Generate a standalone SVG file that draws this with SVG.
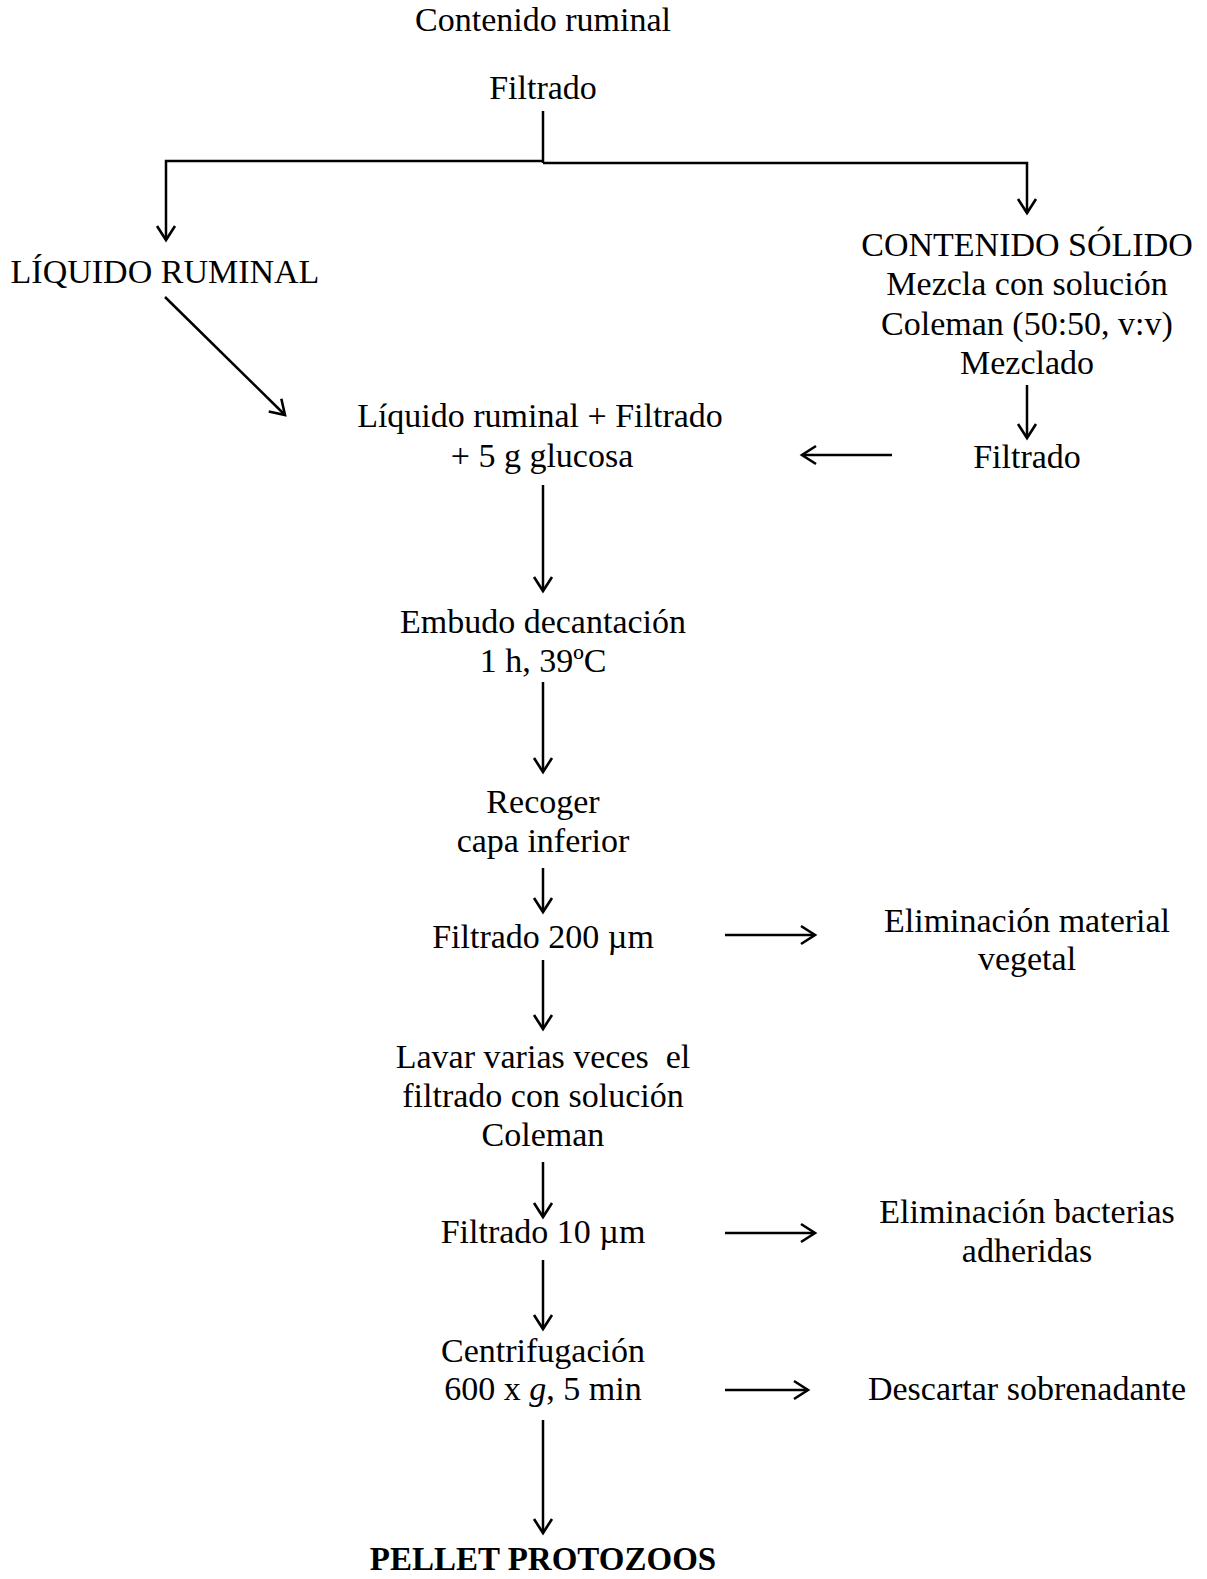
<svg xmlns="http://www.w3.org/2000/svg" width="1207" height="1579" viewBox="0 0 1207 1579">
<style>
text{font-family:"Liberation Serif","Times New Roman",serif;font-size:34px;fill:#000;text-anchor:middle;white-space:pre}
.b{font-weight:bold;font-size:33px}
.ln{stroke:#000;stroke-width:2.5;fill:none}
.ar{stroke:#000;stroke-width:2.5;fill:none;marker-end:url(#arr)}
</style>
<defs>
<marker id="arr" markerUnits="userSpaceOnUse" markerWidth="30" markerHeight="30" refX="0" refY="0" orient="auto" overflow="visible">
<path d="M-14,-9 L0,0 L-14,9" fill="none" stroke="#000" stroke-width="2.6" stroke-linejoin="miter"/>
</marker>
</defs>
<rect width="1207" height="1579" fill="#fff"/>
<g id="n-contenido"><text x="543" y="31">Contenido ruminal</text></g>
<g id="n-filtrado1"><text x="543" y="99">Filtrado</text></g>
<g id="n-liquido"><text x="165" y="283">LÍQUIDO RUMINAL</text></g>
<g id="n-solido">
<text x="1027" y="256">CONTENIDO SÓLIDO</text>
<text x="1027" y="295">Mezcla con solución</text>
<text x="1027" y="335">Coleman (50:50, v:v)</text>
<text x="1027" y="374">Mezclado</text>
</g>
<g id="n-filtrado2"><text x="1027" y="468">Filtrado</text></g>
<g id="n-mezcla">
<text x="540" y="427">Líquido ruminal + Filtrado</text>
<text x="542" y="467">+ 5 g glucosa</text>
</g>
<g id="n-embudo">
<text x="543" y="633">Embudo decantación</text>
<text x="543" y="672">1 h, 39ºC</text>
</g>
<g id="n-recoger">
<text x="543" y="813">Recoger</text>
<text x="543" y="852">capa inferior</text>
</g>
<g id="n-f200"><text x="543" y="948">Filtrado 200 µm</text></g>
<g id="n-elim1">
<text x="1027" y="932">Eliminación material</text>
<text x="1027" y="970">vegetal</text>
</g>
<g id="n-lavar">
<text x="543" y="1068" xml:space="preserve">Lavar varias veces  el</text>
<text x="543" y="1107">filtrado con solución</text>
<text x="543" y="1146">Coleman</text>
</g>
<g id="n-f10"><text x="543" y="1243">Filtrado 10 µm</text></g>
<g id="n-elim2">
<text x="1027" y="1223">Eliminación bacterias</text>
<text x="1027" y="1262">adheridas</text>
</g>
<g id="n-centri">
<text x="543" y="1362">Centrifugación</text>
<text x="543" y="1400">600 x <tspan font-style="italic">g</tspan>, 5 min</text>
</g>
<g id="n-descartar"><text x="1027" y="1400">Descartar sobrenadante</text></g>
<g id="n-pellet"><text class="b" x="543" y="1570">PELLET PROTOZOOS</text></g>
<g id="connectors">
<path class="ln" d="M543,111 V163"/>
<path class="ar" d="M543,161 H166 V240"/>
<path class="ar" d="M543,163 H1027 V213"/>
<path class="ar" d="M165,297 L285,415"/>
<path class="ar" d="M1027,385 V438"/>
<path class="ar" d="M892,455 H802"/>
<path class="ar" d="M543,485 V591"/>
<path class="ar" d="M543,682 V772"/>
<path class="ar" d="M543,868 V912"/>
<path class="ar" d="M543,960 V1029"/>
<path class="ar" d="M543,1162 V1217"/>
<path class="ar" d="M543,1260 V1329"/>
<path class="ar" d="M543,1420 V1533"/>
<path class="ar" d="M725,935 H815"/>
<path class="ar" d="M725,1233 H815"/>
<path class="ar" d="M725,1390 H808"/>
</g>
</svg>
